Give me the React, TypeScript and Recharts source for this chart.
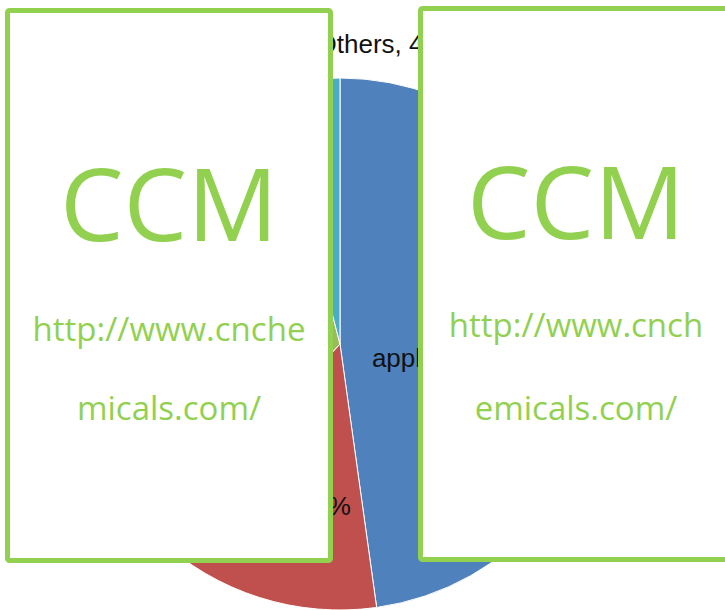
import React from "react";
import { PieChart, Pie, Cell } from "recharts";

const categories = ["application A", "application B", "application C", "Others"];
const shares = [47.8, 14.2, 34, 4];
const sliceColors = ["#4F81BD", "#C0504D", "#9BBB59", "#4BACC6"];

const watermarkTitle = "CCM";
const leftUrlLines = ["http://www.cnche", "micals.com/"];
const rightUrlLines = ["http://www.cnch", "emicals.com/"];

const data = categories.map((name, i) => ({ name, value: shares[i] }));

// label placement relative to pie centre, in units of the radius
const labelLayout = [
  { fx: 0.12, fy: 0.0865, anchor: "start" },
  { fx: 0.041, fy: 0.643, anchor: "end" },
  { fx: -0.62, fy: 0.455, anchor: "middle" },
  { fx: -0.088, fy: -1.094, anchor: "start" },
];

const renderLabel = (props: any) => {
  const { cx, cy, outerRadius, index, name, value } = props;
  const l = labelLayout[index];
  return (
    <text
      x={cx + l.fx * outerRadius}
      y={cy + l.fy * outerRadius}
      textAnchor={l.anchor}
      fill="#111"
      fontSize={26}
      fontFamily="'Liberation Sans', Arial, sans-serif"
    >
      {`${name}, ${Math.round(value)}%`}
    </text>
  );
};

const GREEN = "#92D050";

export default function App() {
  return (
    <div style={{ position: "absolute", left: 0, top: 0, width: 725, height: 610, overflow: "hidden", background: "#fff" }}>
      <PieChart width={725} height={610} margin={{ top: 0, right: 0, bottom: 0, left: 0 }}>
        <Pie
          data={data}
          dataKey="value"
          nameKey="name"
          cx={340}
          cy={344}
          outerRadius={266}
          startAngle={90}
          endAngle={-270}
          stroke="#ffffff"
          strokeWidth={1}
          label={renderLabel}
          labelLine={false}
          isAnimationActive={false}
        >
          {data.map((d, i) => (
            <Cell key={d.name} fill={sliceColors[i]} />
          ))}
        </Pie>
      </PieChart>
      <svg width={725} height={610} style={{ position: "absolute", left: 0, top: 0 }}>
        <rect x={7.5} y={10.5} width={323} height={550} rx={2} fill="#fff" stroke={GREEN} strokeWidth={5} />
        <rect x={420.5} y={8.5} width={311} height={551} rx={2} fill="#fff" stroke={GREEN} strokeWidth={5} />
        <g fill={GREEN} fontFamily="'Open Sans', sans-serif" textAnchor="middle">
          <text x={169} y={240.5} fontSize={101}>{watermarkTitle}</text>
          <text x={169} y={340.5} fontSize={33}>{leftUrlLines[0]}</text>
          <text x={169} y={420} fontSize={33}>{leftUrlLines[1]}</text>
          <text x={576} y={238.5} fontSize={101}>{watermarkTitle}</text>
          <text x={576} y={336.5} fontSize={33}>{rightUrlLines[0]}</text>
          <text x={576} y={419.5} fontSize={33}>{rightUrlLines[1]}</text>
        </g>
      </svg>
    </div>
  );
}
